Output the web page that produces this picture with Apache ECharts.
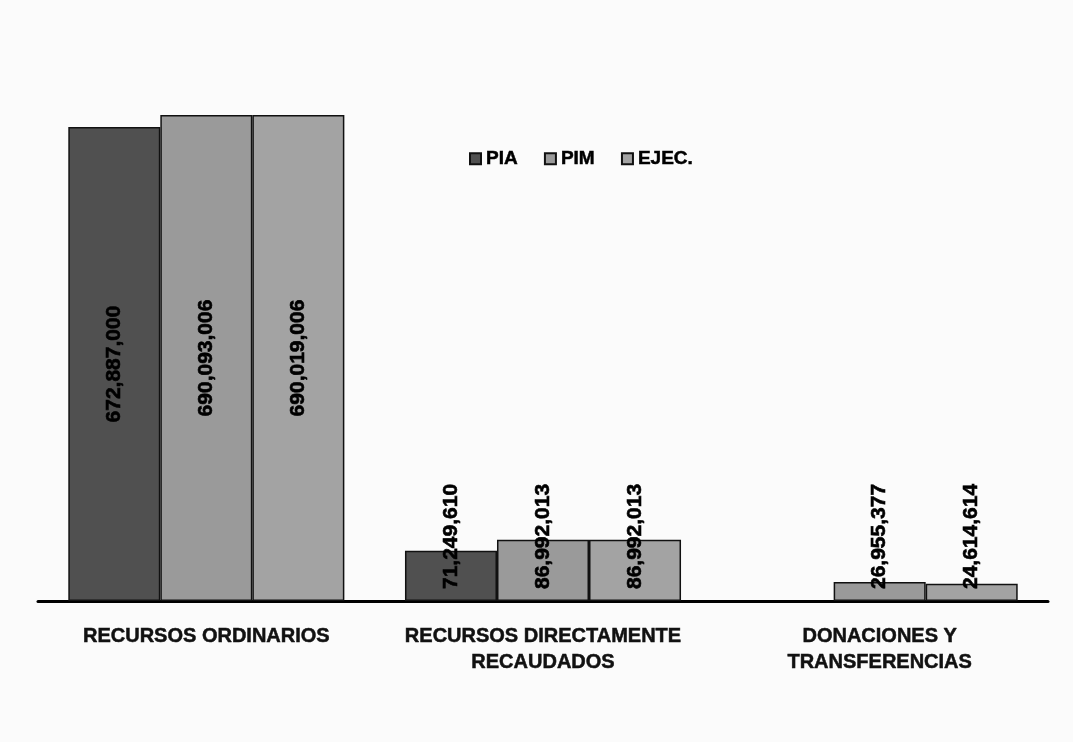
<!DOCTYPE html>
<html>
<head>
<meta charset="utf-8">
<script src="https://cdn.jsdelivr.net/npm/echarts@6/dist/echarts.min.js"></script>
<style>
  html, body { margin: 0; padding: 0; background: #fbfbfb; }
  #chart { width: 1073px; height: 742px; }
</style>
</head>
<body>
<div id="chart"></div>
<script>
  // fuentes de financiamiento
  var categories = ['RECURSOS ORDINARIOS', 'RECURSOS DIRECTAMENTE\nRECAUDADOS', 'DONACIONES Y\nTRANSFERENCIAS']
  var seriesNames = ['PIA', 'PIM', 'EJEC.']
  var pia = [672887000, 71249610, null]
  var pim = [690093006, 86992013, 26955377]
  var ejec = [690019006, 86992013, 24614614]

  var colors = ['#505050', '#9a9a9a', '#a3a3a3']

  function fmt (v) {
    return Number(v).toLocaleString('en-US')
  }

  function makeData (arr) {
    return arr.map(function (v, i) {
      if (v === null) return '-'
      // la primera categoria lleva la etiqueta al centro de la barra
      if (i === 0) {
        return { value: v, label: { position: 'inside', align: 'center', verticalAlign: 'middle' } }
      }
      return v
    })
  }

  var chart = echarts.init(document.getElementById('chart'))

  var series = [pia, pim, ejec].map(function (arr, idx) {
    return {
      name: seriesNames[idx],
      type: 'bar',
      data: makeData(arr),
      barGap: '0%',
      barCategoryGap: '18%',
      itemStyle: {
        color: colors[idx],
        borderColor: '#111',
        borderWidth: 1.5
      },
      label: {
        show: true,
        rotate: 90,
        position: 'insideBottom',
        distance: 12,
        align: 'left',
        verticalAlign: 'middle',
        color: '#000',
        fontFamily: 'Liberation Sans',
        fontWeight: 'bold',
        fontSize: 21,
        textBorderColor: '#000',
        textBorderWidth: 0.6,
        formatter: function (p) { return fmt(p.value) }
      }
    }
  })

  chart.setOption({
    backgroundColor: '#fbfbfb',
    animation: false,
    legend: {
      data: seriesNames,
      top: 144,
      left: 464,
      icon: 'rect',
      itemWidth: 11,
      itemHeight: 11,
      itemGap: 26,
      textStyle: {
        color: '#000',
        fontFamily: 'Liberation Sans',
        fontWeight: 'bold',
        fontSize: 19,
        textBorderColor: '#000',
        textBorderWidth: 0.5
      }
    },
    grid: {
      left: 38,
      right: 25,
      top: 108,
      bottom: 141
    },
    xAxis: {
      type: 'category',
      data: categories,
      axisLine: { lineStyle: { color: '#000', width: 3 } },
      axisTick: { show: false },
      axisLabel: {
        interval: 0,
        margin: 22,
        color: '#111',
        fontFamily: 'Liberation Sans',
        fontWeight: 'bold',
        fontSize: 20,
        lineHeight: 26,
        textBorderColor: '#111',
        textBorderWidth: 0.5
      }
    },
    yAxis: {
      type: 'value',
      min: 0,
      max: 700000000,
      show: false,
      splitLine: { show: false }
    },
    series: series
  })
</script>
</body>
</html>
